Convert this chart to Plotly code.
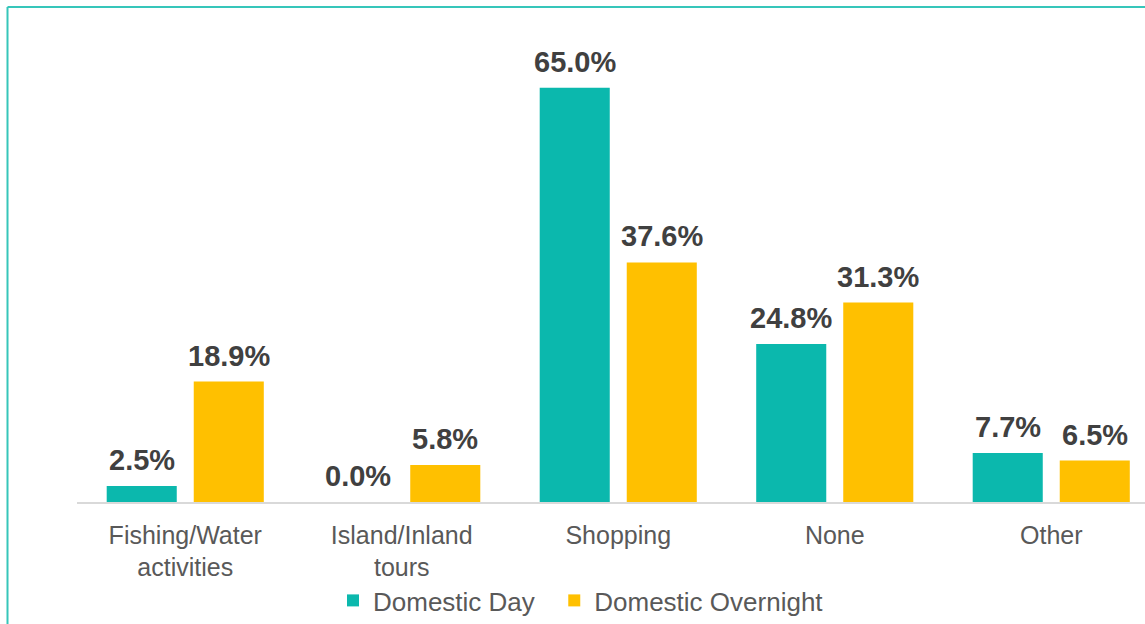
import plotly.graph_objects as go

categories = ["Fishing/Water<br>activities", "Island/Inland<br>tours", "Shopping", "None", "Other"]
series_names = ["Domestic Day", "Domestic Overnight"]
domestic_day = [2.5, 0.0, 65.0, 24.8, 7.7]
domestic_overnight = [18.9, 5.8, 37.6, 31.3, 6.5]

W, H = 1145, 624
ml, mr, mt, mb = 77, 0, 56, 122
pw = W - ml - mr
ph = H - mt - mb
cat_w = 216.5
x_end = -0.5 + pw / cat_w
offset_px = 43.5

LABEL_FONT = dict(family="Liberation Sans, Arial", size=29, color="#404040", weight="bold")

fig = go.Figure()
fig.add_trace(go.Bar(
    x=categories, y=domestic_day, name=series_names[0] + "\u00a0\u00a0",
    marker=dict(color="#0BB8AD", line=dict(width=0)),
))
fig.add_trace(go.Bar(
    x=categories, y=domestic_overnight, name=series_names[1],
    marker=dict(color="#FFC000", line=dict(width=0)),
))

annotations = []
for series, shift in ((domestic_day, -offset_px), (domestic_overnight, offset_px)):
    for cat, v in zip(categories, series):
        annotations.append(dict(
            x=cat, y=v, xref="x", yref="y", text=f"{v:.1f}%", showarrow=False,
            xanchor="center", yanchor="bottom", xshift=shift, yshift=8,
            font=LABEL_FONT,
        ))

def px_x(x):
    return (x - ml) / pw

def px_y(y):
    return (H - mb - y) / ph

fig.update_layout(
    width=W, height=H,
    margin=dict(l=ml, r=mr, t=mt, b=mb),
    paper_bgcolor="white", plot_bgcolor="white",
    barmode="group", bargap=0.196, bargroupgap=0.195,
    font=dict(family="Liberation Sans, Arial", color="#595959"),
    xaxis=dict(range=[-0.5, x_end], showgrid=False, showline=True, linecolor="#D9D9D9",
               linewidth=1.5, ticks="", tickfont=dict(size=25, color="#595959"),
               ticklabelstandoff=10),
    yaxis=dict(range=[0, 70], visible=False),
    showlegend=True,
    legend=dict(orientation="h", x=px_x(333), xanchor="left", y=px_y(601), yanchor="middle",
                font=dict(size=26, color="#595959"), itemwidth=30, traceorder="normal",
                bgcolor="rgba(0,0,0,0)"),
    annotations=annotations,
    shapes=[
        dict(type="line", xref="paper", yref="paper", x0=px_x(7.5), x1=px_x(1160),
             y0=px_y(7), y1=px_y(7), line=dict(color="#36C6BA", width=2)),
        dict(type="line", xref="paper", yref="paper", x0=px_x(7.5), x1=px_x(7.5),
             y0=px_y(7), y1=px_y(640), line=dict(color="#36C6BA", width=2)),
    ],
)

fig.write_html("out.html", config={"displayModeBar": False},
               post_script="document.body.style.margin='0';")
